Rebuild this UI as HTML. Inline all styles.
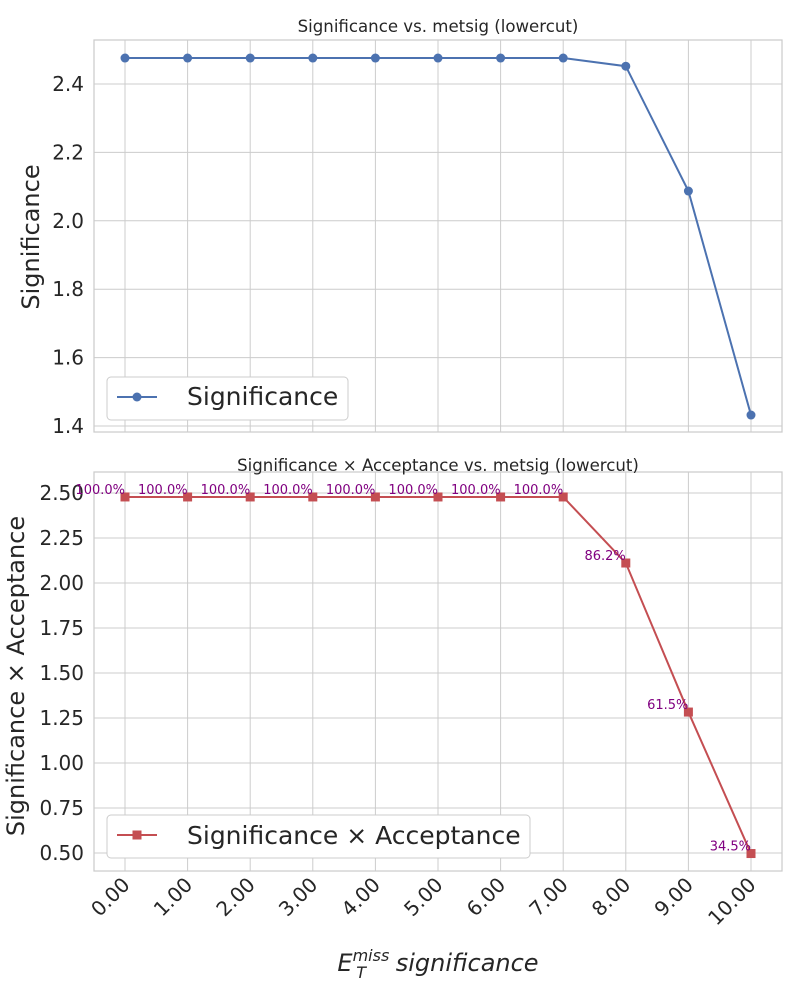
<!DOCTYPE html>
<html><head><meta charset="utf-8"><style>
body{margin:0;background:#fff;}
svg{display:block;font-family:"DejaVu Sans","Liberation Sans",sans-serif;}
</style></head><body>
<svg id="c" width="800" height="1000"></svg>
<script>
const categories=[0,1,2,3,4,5,6,7,8,9,10];
const significance=[2.476,2.476,2.476,2.476,2.476,2.476,2.476,2.476,2.452,2.087,1.432];
const sigAcc=[2.478,2.478,2.478,2.478,2.478,2.478,2.478,2.478,2.111,1.283,0.497];
const accLabels=["100.0%","100.0%","100.0%","100.0%","100.0%","100.0%","100.0%","100.0%","86.2%","61.5%","34.5%"];
const topTicks=[1.4,1.6,1.8,2.0,2.2,2.4];
const botTicks=[0.5,0.75,1.0,1.25,1.5,1.75,2.0,2.25,2.5];
const NS="http://www.w3.org/2000/svg";
const svg=document.getElementById('c');
function mk(tag,attrs,parent,text){const e=document.createElementNS(NS,tag);for(const k in attrs)e.setAttribute(k,attrs[k]);if(text!==undefined)e.textContent=text;(parent||svg).appendChild(e);return e;}
const X=v=>125+(v-0)*62.6;
const Yt=v=>84+(2.4-v)*342;
const Yb=v=>493+(2.5-v)*180;
function panel(y0,y1,ticks,Y,fmt,name){
  const g=mk('g',{});
  
  
  categories.forEach(c=>{const l=mk('line',{x1:X(c),x2:X(c),y1:y0,y2:y1,stroke:'#cccccc','stroke-width':1},g);});
  ticks.forEach(t=>{
    const l=mk('line',{x1:94,x2:782,y1:Y(t),y2:Y(t),stroke:'#cccccc','stroke-width':1},g);
    
    const tx=mk('text',{x:84,y:Y(t)+7,'text-anchor':'end','font-size':20,fill:'#262626'},g,fmt(t));
    
  });
  const r=mk('rect',{x:94,y:y0,width:688,height:y1-y0,fill:'none',stroke:'#cccccc','stroke-width':1.25},g);
  
  return g;
}
panel(40,432,topTicks,Yt,t=>t.toFixed(1),'top-panel');
panel(472,871,botTicks,Yb,t=>t.toFixed(2),'bottom-panel');
let t=mk('text',{x:438,y:32,'text-anchor':'middle','font-size':16.6,fill:'#262626'},svg,'Significance vs. metsig (lowercut)');

t=mk('text',{x:438,y:471,'text-anchor':'middle','font-size':16.6,fill:'#262626'},svg,'Significance × Acceptance vs. metsig (lowercut)');

t=mk('text',{x:0,y:0,'text-anchor':'middle','font-size':24,fill:'#262626',transform:'translate(39,237) rotate(-90)'},svg,'Significance');

t=mk('text',{x:0,y:0,'text-anchor':'middle','font-size':24,fill:'#262626',transform:'translate(24,676) rotate(-90)'},svg,'Significance × Acceptance');

categories.forEach(c=>{
  const e=mk('text',{x:0,y:0,'text-anchor':'end','font-size':20,fill:'#262626',transform:`translate(${X(c)+6},${886}) rotate(-45)`},svg,c.toFixed(2));
  
});
const xt=mk('text',{x:438,y:971,'text-anchor':'middle','font-size':24,'font-style':'italic',fill:'#262626'},svg);

xt.innerHTML='E<tspan font-size="16" dy="-10">miss</tspan><tspan font-size="16" dx="-33" dy="17">T</tspan><tspan dy="-7" dx="22"> significance</tspan>';
const blue='#4c72b0',red='#c44e52';
let p=mk('polyline',{points:categories.map((c,i)=>X(c)+','+Yt(significance[i])).join(' '),fill:'none',stroke:blue,'stroke-width':2});

categories.forEach((c,i)=>{const m=mk('circle',{cx:X(c),cy:Yt(significance[i]),r:4.5,fill:blue});});
p=mk('polyline',{points:categories.map((c,i)=>X(c)+','+Yb(sigAcc[i])).join(' '),fill:'none',stroke:red,'stroke-width':2});

categories.forEach((c,i)=>{
  const m=mk('rect',{x:X(c)-4.5,y:Yb(sigAcc[i])-4.5,width:9,height:9,fill:red});
  
  const l=mk('text',{x:X(c),y:Yb(sigAcc[i])-3,'text-anchor':'end','font-size':13,fill:'#800080'},svg,accLabels[i]);
  
});
let lg=mk('g',{});
mk('rect',{x:107,y:377,width:241,height:43,rx:4,fill:'#fff',stroke:'#cccccc'},lg);
mk('line',{x1:117,x2:157,y1:397,y2:397,stroke:blue,'stroke-width':2},lg);
mk('circle',{cx:137,cy:397,r:4.5,fill:blue},lg);
mk('text',{x:187,y:405,'font-size':25,fill:'#262626'},lg,'Significance');
lg=mk('g',{});
mk('rect',{x:107,y:815,width:423,height:43,rx:4,fill:'#fff',stroke:'#cccccc'},lg);
mk('line',{x1:117,x2:157,y1:835,y2:835,stroke:red,'stroke-width':2},lg);
mk('rect',{x:132.5,y:830.5,width:9,height:9,fill:red},lg);
mk('text',{x:187,y:844,'font-size':25,fill:'#262626'},lg,'Significance × Acceptance');
</script>
</body></html>
